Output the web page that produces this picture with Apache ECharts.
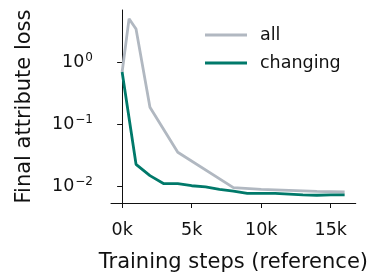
<!DOCTYPE html>
<html lang="en">
<head>
    <meta charset="UTF-8">
    <title>Final attribute loss</title>
    <script src="https://cdn.jsdelivr.net/npm/echarts@6.0.0/dist/echarts.min.js"></script>
    <style>
        html, body { margin: 0; padding: 0; background: #ffffff; }
        #main { width: 371px; height: 280px; }
    </style>
</head>
<body>
<div id="main"></div>
<script type="text/javascript">
    // training steps (reference)
    var stepsAll = [0, 500, 1000, 2000, 4000, 8000, 10000, 12000, 14000, 16000]
    var lossAll = [0.69, 5.0, 3.4, 0.186, 0.035, 0.0094, 0.0088, 0.0085, 0.0082, 0.0080]

    var stepsChanging = [0, 1000, 2000, 3000, 4000, 5000, 6000, 7000, 8000, 9000, 10000, 11000, 12000, 13000, 14000, 15000, 16000]
    var lossChanging = [0.69, 0.0224, 0.0147, 0.0109, 0.0109, 0.0101, 0.0097, 0.0088, 0.0083, 0.0076, 0.0076, 0.0076, 0.0074, 0.0072, 0.0071, 0.0072, 0.0072]

    var xTicks = [0, 5000, 10000, 15000]
    var yTicks = [0.01, 0.1, 1]
    var yExponents = ['\u22122', '\u22121', '0']

    function pairs(xs, ys) {
        var out = []
        for (var i = 0; i < xs.length; i++) out.push([xs[i], ys[i]])
        return out
    }

    var font = 'DejaVu Sans'
    var myChart = echarts.init(document.getElementById('main'))

    var option = {
        animation: false,
        color: ['#b1b8c1', '#00796a'],
        grid: {left: 111, top: 10, right: 13, bottom: 77, containLabel: false},
        legend: {
            orient: 'vertical',
            left: 200,
            top: 19,
            icon: 'rect',
            itemWidth: 42,
            itemHeight: 3,
            itemGap: 6,
            textStyle: {fontFamily: font, fontSize: 17.5, color: '#111', lineHeight: 22, padding: [0, 0, 0, 8]},
            data: ['all', 'changing']
        },
        xAxis: {
            type: 'value',
            min: -800,
            max: 16800,
            name: 'Training steps (reference)',
            nameLocation: 'middle',
            nameGap: 49,
            nameTextStyle: {fontFamily: font, fontSize: 21, color: '#111'},
            splitLine: {show: false},
            axisLine: {lineStyle: {color: '#111', width: 1}},
            axisTick: {customValues: xTicks, length: 5, lineStyle: {color: '#111'}},
            axisLabel: {
                customValues: xTicks,
                fontFamily: font, fontSize: 17.5, color: '#111', margin: 18,
                formatter: function (v) { return (v / 1000) + 'k' }
            }
        },
        yAxis: {
            type: 'log',
            logBase: 10,
            min: 0.00532,
            max: 6.9,
            name: 'Final attribute loss',
            nameLocation: 'middle',
            nameGap: 76,
            nameTextStyle: {fontFamily: font, fontSize: 21, color: '#111'},
            splitLine: {show: false},
            minorTick: {show: false},
            axisLine: {show: true, lineStyle: {color: '#111', width: 1}},
            axisTick: {customValues: yTicks, length: 5, lineStyle: {color: '#111'}},
            axisLabel: {
                customValues: yTicks,
                margin: 18,
                formatter: function (v) {
                    var e = Math.round(Math.log10(v))
                    return '{b|10}{s|' + yExponents[e + 2] + '}'
                },
                rich: {
                    b: {fontFamily: font, fontSize: 17.5, color: '#111'},
                    s: {fontFamily: font, fontSize: 12, color: '#111', padding: [0, 0, 9, 1]}
                }
            }
        },
        series: [
            {
                name: 'all',
                type: 'line',
                symbol: 'none',
                lineStyle: {width: 2.8, color: '#b1b8c1'},
                data: pairs(stepsAll, lossAll)
            },
            {
                name: 'changing',
                type: 'line',
                symbol: 'none',
                lineStyle: {width: 2.8, color: '#00796a'},
                data: pairs(stepsChanging, lossChanging)
            }
        ]
    }

    myChart.setOption(option)
</script>
</body>
</html>
